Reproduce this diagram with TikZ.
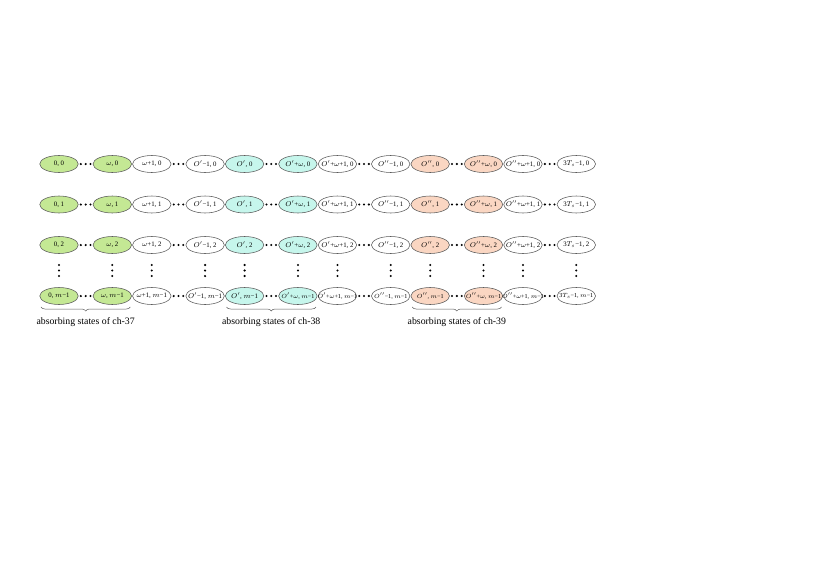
\documentclass[tikz,border=0pt]{standalone}
\usepackage{fontspec}
\setmainfont{Liberation Serif}
\usetikzlibrary{calc,decorations.pathreplacing,shapes.geometric}
\definecolor{stgreen}{RGB}{196,232,148}
\definecolor{stcyan}{RGB}{198,246,236}
\definecolor{stpeach}{RGB}{250,214,194}
\definecolor{stedge}{RGB}{90,90,90}
\tikzset{
  state/.style={ellipse,draw=stedge,line width=0.55pt,minimum width=38.5pt,minimum height=17pt,inner sep=0pt,font=\fontsize{6.8}{7}\selectfont},
  hdot/.style={fill=black},
  bracedec/.style={draw=stedge,line width=0.5pt,decorate,decoration={brace,mirror,amplitude=4pt}},
  bracelabel/.style={font=\fontsize{9.8}{11}\selectfont,inner sep=0pt}
}
\begin{document}
\begin{tikzpicture}[x=1pt,y=-1pt]
\useasboundingbox (0,0) rectangle (829,586);
\def\rowA{164}\def\rowB{204.5}\def\rowC{245}\def\rowD{296}
\foreach \cx/\lab/\fc [count=\i] in {
  59/{0}/stgreen,
  112.3/{$\omega$}/stgreen,
  151.8/{$\omega$+1}/white,
  205.1/{$O'$−1}/white,
  244.6/{$O'$}/stcyan,
  297.9/{$O'$+$\omega$}/stcyan,
  337.4/{$O'$+$\omega$+1}/white,
  390.7/{$O''$−1}/white,
  430.2/{$O''$}/stpeach,
  483.5/{$O''$+$\omega$}/stpeach,
  523/{$O''$+$\omega$+1}/white,
  576.3/{3$T_s$−1}/white}{
  \node[state,fill=\fc] (n-\i-1) at (\cx,\rowA) {\makebox[0pt]{\lab, 0}};
  \node[state,fill=\fc] (n-\i-2) at (\cx,\rowB) {\makebox[0pt]{\lab, 1}};
  \node[state,fill=\fc] (n-\i-3) at (\cx,\rowC) {\makebox[0pt]{\lab, 2}};
  \node[state,fill=\fc] (n-\i-4) at (\cx,\rowD) {\makebox[0pt]{\ifnum\i>5\fontsize{6.1}{7}\selectfont\fi\lab, $m$−1}};
  % vertical dots
  \coordinate (v-\i) at ($(n-\i-3)!0.5!(n-\i-4)$);
  \foreach \dy in {-5.5,0,5.5}{\fill[hdot] ($(v-\i)+(0,\dy)$) circle (1.15pt);}
}
% horizontal dots
\foreach \a/\b in {1/2,3/4,5/6,7/8,9/10,11/12}{
  \foreach \r in {1,2,3,4}{
    \coordinate (h-\a-\r) at ($(n-\a-\r)!0.5!(n-\b-\r)$);
    \foreach \dx in {-4.8,0,4.8}{\fill[hdot] ($(h-\a-\r)+(\dx,0)$) circle (1.15pt);}
  }
}
% braces
\foreach \a/\b/\t in {1/2/37,5/6/38,9/10/39}{
  \coordinate (bl-\a) at ($(n-\a-4.west)+(1.5,11)$);
  \coordinate (br-\a) at ($(n-\b-4.east)+(-1.5,11)$);
  \draw[bracedec] (bl-\a) -- (br-\a);
  \node[bracelabel] (lab-\a) at ($(bl-\a)!0.5!(br-\a)+(0,15.5)$) {absorbing states of ch-\t};
}
\end{tikzpicture}
\end{document}
